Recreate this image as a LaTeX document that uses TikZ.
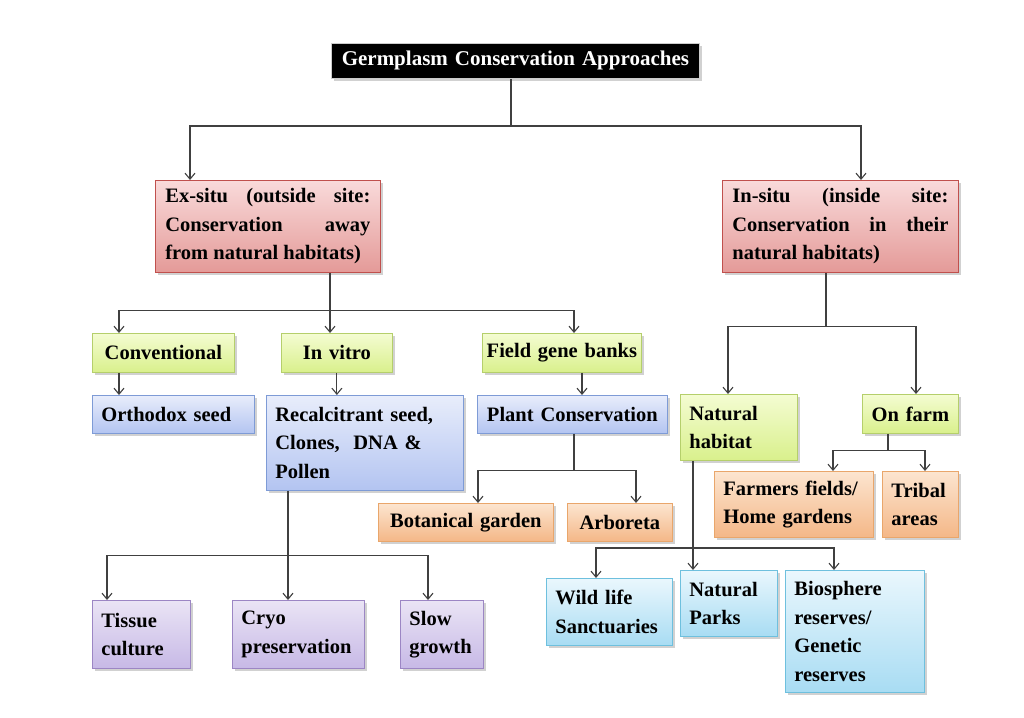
\documentclass[tikz,border=0pt]{standalone}
\usepackage{fontspec}
\setmainfont{Liberation Serif}
\usetikzlibrary{arrows.meta,shadows}

\definecolor{rtop}{HTML}{F9DADA}
\definecolor{rbot}{HTML}{E49A98}
\definecolor{rbord}{HTML}{C0504D}
\definecolor{gtop}{HTML}{F4FCD2}
\definecolor{gbot}{HTML}{D9F08C}
\definecolor{gbord}{HTML}{B5CF6B}
\definecolor{btop}{HTML}{E8EDFB}
\definecolor{bbot}{HTML}{B3C4F1}
\definecolor{bbord}{HTML}{7E9BD6}
\definecolor{otop}{HTML}{FCE5D0}
\definecolor{obot}{HTML}{F4B787}
\definecolor{obord}{HTML}{E9A66B}
\definecolor{ptop}{HTML}{EAE4F5}
\definecolor{pbot}{HTML}{C7B9E6}
\definecolor{pbord}{HTML}{9C86C4}
\definecolor{ctop}{HTML}{EAF7FD}
\definecolor{cbot}{HTML}{A8DCF3}
\definecolor{cbord}{HTML}{6EC0DE}
\definecolor{lnk}{HTML}{404040}

\begin{document}
\begin{tikzpicture}[x=1pt,y=-1pt,
  box/.style={draw,line width=0.8pt,anchor=north west,align=left,inner xsep=9pt,inner ysep=2pt,
    font=\bfseries\fontsize{20.5}{28.5}\selectfont,
    drop shadow={shadow xshift=2.5pt,shadow yshift=-2.5pt,fill=black!40,opacity=.45}},
  red node/.style={box,draw=rbord,top color=rtop,bottom color=rbot,inner xsep=10pt,align=justify},
  green node/.style={box,draw=gbord,top color=gtop,bottom color=gbot},
  blue node/.style={box,draw=bbord,top color=btop,bottom color=bbot},
  orange node/.style={box,draw=obord,top color=otop,bottom color=obot},
  purple node/.style={box,draw=pbord,top color=ptop,bottom color=pbot},
  cyan node/.style={box,draw=cbord,top color=ctop,bottom color=cbot},
  link/.style={draw=lnk,line width=1.1pt},
  arr/.style={link,-{Straight Barb[length=6pt,width=10pt]}}]

  \useasboundingbox[fill=white] (0,0) rectangle (1024,717);

  \node[box,fill=black,text=white,draw=black!20,align=center,text width=350pt,minimum height=35pt,
    font=\bfseries\fontsize{21}{25}\selectfont] (title) at (331,43) {Germplasm Conservation Approaches};

  % ex-situ side
  \node[red node,text width=205pt,minimum height=92pt] (exsitu) at (155,180)
    {Ex-situ (outside site:\linebreak Conservation away\linebreak from natural habitats)};
  \node[green node,text width=124pt,align=center,minimum height=39pt] (conv) at (92,333) {Conventional};
  \node[green node,text width=93pt,align=center,minimum height=39pt] (invitro) at (281,333) {In vitro};
  \node[green node,text width=151pt,inner xsep=4pt,align=center,minimum height=39pt] (field) at (482,333) {Field gene banks};
  \node[blue node,text width=144pt,minimum height=38pt] (orth) at (92,395) {Orthodox seed};
  \node[blue node,text width=179pt,minimum height=95pt] (recal) at (266,395)
    {Recalcitrant seed,\\ Clones,~ DNA \&\\ Pollen};
  \node[blue node,text width=172pt,align=center,minimum height=38pt] (plantc) at (477,395) {Plant Conservation};
  \node[orange node,text width=157pt,align=center,minimum height=38pt] (bot) at (378,503) {Botanical garden};
  \node[orange node,text width=87pt,align=center,minimum height=38pt] (arb) at (567,503) {Arboreta};
  \node[purple node,text width=80pt,minimum height=68pt] (tissue) at (92,600) {Tissue\\ culture};
  \node[purple node,text width=114pt,minimum height=68pt] (cryo) at (232,600) {Cryo\\ preservation};
  \node[purple node,text width=65pt,minimum height=68pt] (slow) at (400,600) {Slow\\ growth};

  % in-situ side
  \node[red node,text width=216pt,minimum height=92pt] (insitu) at (722,180)
    {In-situ (inside site:\linebreak Conservation in their\linebreak natural habitats)};
  \node[green node,text width=99pt,minimum height=66pt] (nathab) at (680,394) {Natural\\ habitat};
  \node[green node,text width=78pt,align=center,minimum height=39pt] (onfarm) at (862,394) {On farm};
  \node[orange node,text width=141pt,minimum height=66pt] (farmers) at (714,471) {Farmers fields/\\ Home gardens};
  \node[orange node,text width=58pt,minimum height=66pt] (tribal) at (882,471) {Tribal\\ areas};
  \node[cyan node,text width=108pt,minimum height=67pt] (wild) at (546,578) {Wild life\\ Sanctuaries};
  \node[cyan node,text width=79pt,minimum height=66pt] (natparks) at (680,570) {Natural\\ Parks};
  \node[cyan node,text width=121pt,minimum height=122pt] (bio) at (785,570)
    {Biosphere\\ reserves/\\ Genetic\\ reserves};

  % top level
  \coordinate (t1) at (511,126);
  \draw[link] (title.south -| t1) -- (t1);
  \draw[arr] (t1) -| ([xshift=35]exsitu.north west);
  \draw[arr] (t1) -| ([xshift=139]insitu.north west);

  % ex-situ branches
  \draw[link] ([xshift=175]exsitu.south west) -- ++(0,38) coordinate (e1);
  \draw[arr] (e1) -| ([xshift=27]conv.north west);
  \draw[arr] (e1) -- ([xshift=49]invitro.north west);
  \draw[arr] (e1) -| ([xshift=92]field.north west);
  \draw[arr] ([xshift=27]conv.south west) -- ([xshift=27]orth.north west);
  \draw[arr] (invitro.south) -- (invitro.south |- recal.north);
  \draw[arr] ([xshift=100]field.south west) -- ([xshift=105]plantc.north west);
  \draw[link] ([xshift=97]plantc.south west) -- ++(0,37) coordinate (p1);
  \draw[arr] (p1) -| ([xshift=100]bot.north west);
  \draw[arr] (p1) -| ([xshift=69]arb.north west);
  \draw[link] ([xshift=22]recal.south west) -- ++(0,65) coordinate (r1);
  \draw[arr] (r1) -| ([xshift=15]tissue.north west);
  \draw[arr] (r1) -- ([xshift=56]cryo.north west);
  \draw[arr] (r1) -| ([xshift=28]slow.north west);

  % in-situ branches
  \draw[link] ([xshift=104]insitu.south west) -- ++(0,54) coordinate (i1);
  \draw[arr] (i1) -| ([xshift=48]nathab.north west);
  \draw[arr] (i1) -| ([xshift=54]onfarm.north west);
  \draw[link] ([xshift=26]onfarm.south west) -- ++(0,17) coordinate (o1);
  \draw[arr] (o1) -| ([xshift=119]farmers.north west);
  \draw[arr] (o1) -| ([xshift=43]tribal.north west);
  \draw[arr] ([xshift=13]nathab.south west) -- ([xshift=13]natparks.north west);
  \coordinate (n1) at (693,548);
  \draw[arr] (n1) -| ([xshift=50]wild.north west);
  \draw[arr] (n1) -| ([xshift=49]bio.north west);

\end{tikzpicture}
\end{document}
